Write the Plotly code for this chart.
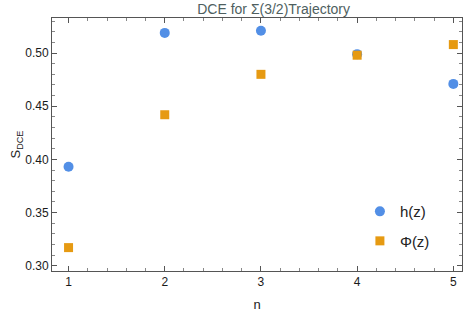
import plotly.graph_objects as go

n = [1, 2, 3, 4, 5]
h_vals = [0.393, 0.519, 0.521, 0.499, 0.471]
phi_vals = [0.317, 0.442, 0.480, 0.498, 0.508]
x_ticks = [1, 2, 3, 4, 5]
y_ticks = [0.30, 0.35, 0.40, 0.45, 0.50]
y_labels = ["0.30", "0.35", "0.40", "0.45", "0.50"]

fig = go.Figure()
fig.add_trace(go.Scatter(x=n, y=h_vals, mode="markers", name="h(z)", legendgroup="a",
                         marker=dict(symbol="circle", size=10, color="#528fe6")))
fig.add_trace(go.Scatter(x=n, y=phi_vals, mode="markers", name="Φ(z)", legendgroup="b",
                         marker=dict(symbol="square", size=9, color="#e69a12")))

axis_common = dict(showgrid=False, zeroline=False, showline=True, linecolor="#555555",
                   linewidth=1, mirror="ticks", ticks="inside", ticklen=5, tickcolor="#555555",
                   tickfont=dict(family="Liberation Sans, Arial", size=12, color="#1a1a1a"))

fig.update_xaxes(range=[0.828, 5.09], tickvals=x_ticks,
                 minor=dict(dtick=0.2, tick0=0, ticks="inside", ticklen=3, tickcolor="#888888"),
                 title=dict(text="n", font=dict(family="Liberation Sans, Arial", size=13, color="#222222"),
                            standoff=12),
                 **axis_common)
fig.update_yaxes(range=[0.295, 0.533], tickvals=y_ticks, ticktext=y_labels,
                 minor=dict(dtick=0.01, tick0=0, ticks="inside", ticklen=3, tickcolor="#888888"),
                 title=dict(text="S<sub>DCE</sub>", font=dict(family="Liberation Sans, Arial", size=13, color="#222222"),
                            standoff=1),
                 **axis_common)

fig.update_layout(
    width=463, height=312,
    margin=dict(l=52, r=1, t=18, b=41),
    plot_bgcolor="white", paper_bgcolor="white",
    title=dict(text="DCE for Σ(3/2)Trajectory", x=0.591, xanchor="center", y=0.985, yanchor="top",
               font=dict(family="Liberation Sans Narrow, Liberation Sans, Arial", size=14, color="#4f5f5f")),
    legend=dict(x=0.751, y=0.30, xanchor="left", yanchor="top", bgcolor="rgba(0,0,0,0)",
                font=dict(family="Liberation Sans, Arial", size=15, color="#222222"),
                itemwidth=30, tracegroupgap=7, traceorder="grouped"),
    showlegend=True,
)

fig.write_html("out.html", config={"displayModeBar": False},
               post_script="document.body.style.margin='0';document.body.style.overflow='hidden';")
